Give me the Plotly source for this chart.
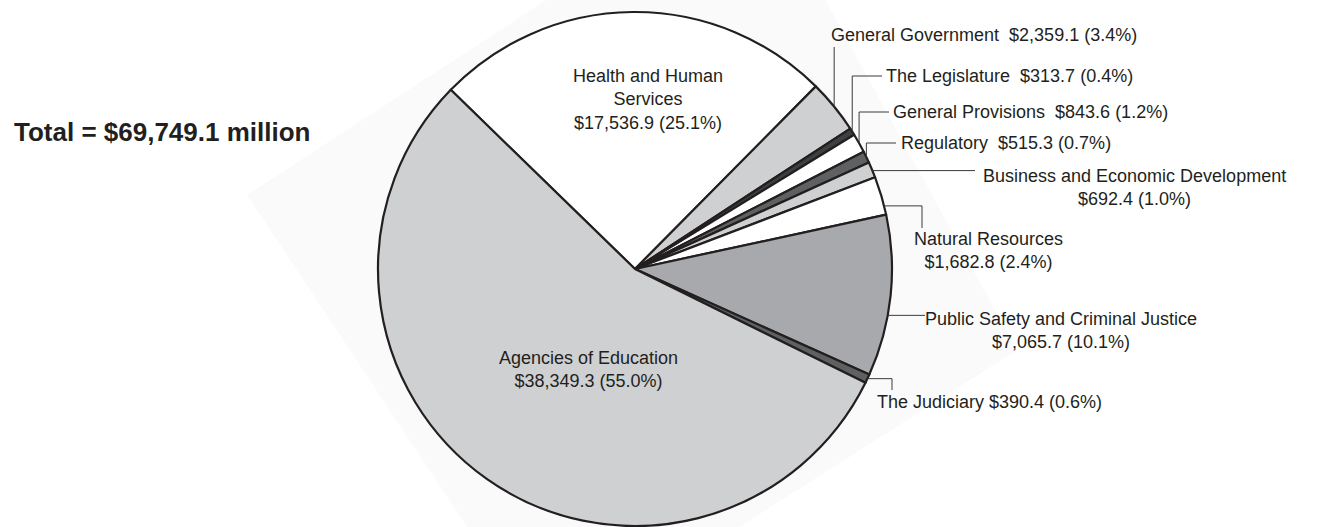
import math
import plotly.graph_objects as go

# ---------------- data ----------------
categories = [
    "Health and Human Services", "General Government", "The Legislature",
    "General Provisions", "Regulatory", "Business and Economic Development",
    "Natural Resources", "Public Safety and Criminal Justice", "The Judiciary",
    "Agencies of Education",
]
values = [17536.9, 2359.1, 313.7, 843.6, 515.3, 692.4, 1682.8, 7065.7, 390.4, 38349.3]
percents = ["25.1%", "3.4%", "0.4%", "1.2%", "0.7%", "1.0%", "2.4%", "10.1%", "0.6%", "55.0%"]
total_label = "Total = $69,749.1 million"

colors = ["#ffffff", "#cfd0d2", "#3e3f41", "#ffffff", "#5f6062", "#cfd0d2",
          "#ffffff", "#a7a9ac", "#5f6062", "#cfd0d2"]

# ---------------- layout constants (pixels) ----------------
W, H = 1319, 527
CX, CY, R = 635, 269, 257
ROTATION = -45.8
TXT = "#231f20"
FONT = "Liberation Sans, Arial, sans-serif"
FS = 18


def px(x, y):
    return x / W, 1 - y / H


def money(v):
    return f"${v:,.1f}"


NB = "\u00a0"
texts = [
    f"Health and Human<br>Services<br>{money(values[0])} ({percents[0]})",
    f"General Government {NB}{money(values[1])} ({percents[1]})",
    f"The Legislature {NB}{money(values[2])} ({percents[2]})",
    f"General Provisions {NB}{money(values[3])} ({percents[3]})",
    f"Regulatory {NB}{money(values[4])} ({percents[4]})",
    f"Business and Economic Development<br>{money(values[5])} ({percents[5]})",
    f"Natural Resources<br>{money(values[6])} ({percents[6]})",
    f"Public Safety and Criminal Justice<br>{money(values[7])} ({percents[7]})",
    f"The Judiciary {money(values[8])} ({percents[8]})",
    f"Agencies of Education<br>{money(values[9])} ({percents[9]})",
]
# label placement: (x, y, xanchor)
label_pos = [
    (648, 99, "center"),
    (829, 35, "left"),
    (884, 76, "left"),
    (891, 112, "left"),
    (899, 143, "left"),
    (1134, 187, "center"),
    (988, 250, "center"),
    (1061, 330, "center"),
    (875, 402, "left"),
    (588, 369, "center"),
]
# leader routes: (fraction within slice, route, params)
leaders = {
    1: (0.5, "v", (47,)),
    2: (0.5, "vh", (76, 882)),
    3: (0.5, "vh", (112, 889)),
    4: (0.5, "vh", (143, 896)),
    5: (0.55, "h", (975,)),
    6: (0.77, "hv", (922, 228)),
    7: (0.62, "h", (925,)),
    8: (0.5, "hv", (892, 390)),
}

fig = go.Figure()

fig.add_trace(go.Pie(
    labels=categories,
    values=values,
    sort=False,
    direction="clockwise",
    rotation=ROTATION,
    marker=dict(colors=colors, line=dict(color=TXT, width=2.2)),
    textinfo="none",
    hoverinfo="label+value+percent",
    showlegend=False,
    domain=dict(x=[(CX - R) / W, (CX + R) / W], y=[1 - (CY + R) / H, 1 - (CY - R) / H]),
))

shapes = []
# faint background shadow
poly = [(247, 195), (752, -134), (1017, 350), (548, 649)]
path = "M " + " L ".join(f"{px(x, y)[0]:.4f},{px(x, y)[1]:.4f}" for x, y in poly) + " Z"
shapes.append(dict(type="path", xref="paper", yref="paper", path=path,
                   fillcolor="#fafafa", line=dict(width=0), layer="below"))

total = sum(values)
cum = 0.0
starts = []
for v in values:
    starts.append(cum)
    cum += v


def edge_point(i, frac):
    a0 = ROTATION + starts[i] / total * 360
    a = math.radians(a0 + values[i] / total * 360 * frac)
    return CX + R * math.sin(a), CY - R * math.cos(a)


def seg(x0, y0, x1, y1):
    p0, p1 = px(x0, y0), px(x1, y1)
    shapes.append(dict(type="line", xref="paper", yref="paper",
                       x0=p0[0], y0=p0[1], x1=p1[0], y1=p1[1],
                       line=dict(color="#3a3a3a", width=1)))


for i, (frac, route, prm) in leaders.items():
    ex, ey = edge_point(i, frac)
    if route == "v":
        seg(ex, ey, ex, prm[0])
    elif route == "vh":
        seg(ex, ey, ex, prm[0])
        seg(ex, prm[0], prm[1], prm[0])
    elif route == "h":
        seg(ex, ey, prm[0], ey)
    elif route == "hv":
        seg(ex, ey, prm[0], ey)
        seg(prm[0], ey, prm[0], prm[1])

annotations = []
for t, (x, y, xa) in zip(texts, label_pos):
    ax, ay = px(x, y)
    annotations.append(dict(x=ax, y=ay, xref="paper", yref="paper", text=t,
                            showarrow=False, xanchor=xa, yanchor="middle",
                            align="center", font=dict(family=FONT, size=FS, color=TXT)))

tx, ty = px(12, 132)
annotations.append(dict(x=tx, y=ty, xref="paper", yref="paper",
                        text=f"<b>{total_label}</b>", showarrow=False,
                        xanchor="left", yanchor="middle",
                        font=dict(family=FONT, size=26, color=TXT)))

fig.update_layout(
    width=W, height=H,
    margin=dict(l=0, r=0, t=0, b=0),
    paper_bgcolor="white", plot_bgcolor="white",
    shapes=shapes, annotations=annotations,
)

fig.write_html("out.html")
